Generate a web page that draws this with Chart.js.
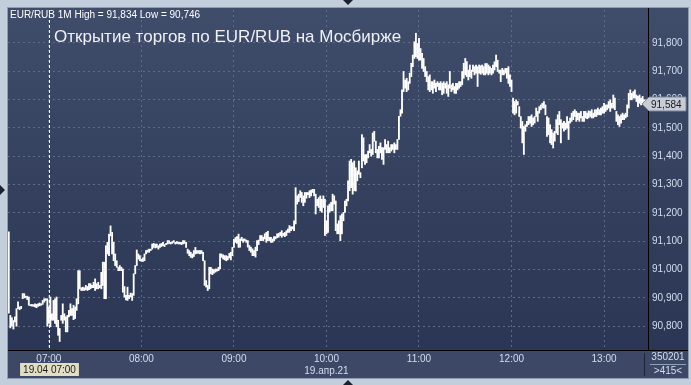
<!DOCTYPE html>
<html>
<head>
<meta charset="utf-8">
<script src="https://cdn.jsdelivr.net/npm/chart.js@4.4.1/dist/chart.umd.min.js"></script>
<style>
  body { margin: 0; background: #c3cedc; }
  canvas { display: block; }
</style>
</head>
<body>
<canvas id="myChart" width="691" height="385"></canvas>
<script>
// EUR/RUB 1M, 19.04.21 - minute bars from 06:34
const startTime = '06:34';
const highs = [
  91.133, 90.838, 90.83, 90.82, 90.833, 90.862, 90.886, 90.868, 90.87, 90.915,
  90.915, 90.906, 90.906, 90.903, 90.876, 90.877, 90.876, 90.879, 90.877, 90.879,
  90.882, 90.879, 90.891, 90.897, 90.897, 90.897, 90.868, 90.903, 90.844, 90.891,
  90.897, 90.903, 90.821, 90.792, 90.838, 90.879, 90.844, 90.833, 90.838, 90.856,
  90.879, 90.862, 90.874, 90.868, 90.897, 90.996, 90.996, 90.936, 90.938, 90.936,
  90.944, 90.94, 90.95, 90.95, 90.944, 90.955, 90.967, 90.95, 90.955, 90.944,
  90.99, 91.026, 91.026, 91.084, 91.096, 91.125, 91.154, 91.131, 91.096, 91.055,
  91.031, 91.008, 91.014, 91.008, 91.002, 90.94, 90.909, 90.938, 90.909, 90.917,
  90.915, 90.985, 91.014, 91.069, 91.055, 91.049, 91.037, 91.041, 91.055, 91.067,
  91.069, 91.072, 91.072, 91.09, 91.092, 91.09, 91.09, 91.084, 91.09, 91.092,
  91.096, 91.088, 91.092, 91.102, 91.102, 91.096, 91.099, 91.102, 91.096, 91.099,
  91.096, 91.096, 91.096, 91.102, 91.102, 91.096, 91.072, 91.067, 91.061, 91.055,
  91.067, 91.078, 91.067, 91.067, 91.067, 91.067, 91.061, 91.031, 90.961, 90.944,
  91.008, 91.008, 91.002, 90.999, 91.002, 91.002, 91.008, 91.055, 91.055, 91.052,
  91.049, 91.049, 91.046, 91.057, 91.061, 91.078, 91.107, 91.113, 91.116, 91.125,
  91.108, 91.114, 91.108, 91.108, 91.104, 91.102, 91.085, 91.079, 91.073, 91.067,
  91.079, 91.102, 91.104, 91.12, 91.12, 91.114, 91.126, 91.131, 91.135, 91.114,
  91.114, 91.108, 91.116, 91.116, 91.126, 91.128, 91.131, 91.137, 91.128, 91.131,
  91.137, 91.143, 91.155, 91.151, 91.151, 91.172, 91.289, 91.26, 91.266, 91.278,
  91.272, 91.26, 91.272, 91.272, 91.272, 91.278, 91.28, 91.283, 91.283, 91.266,
  91.248, 91.254, 91.26, 91.248, 91.26, 91.248, 91.172, 91.225, 91.231, 91.237,
  91.266, 91.26, 91.242, 91.161, 91.172, 91.19, 91.196, 91.202, 91.242, 91.248,
  91.313, 91.383, 91.389, 91.377, 91.383, 91.359, 91.348, 91.383, 91.342, 91.476,
  91.465, 91.406, 91.406, 91.418, 91.441, 91.424, 91.482, 91.488, 91.453, 91.424,
  91.435, 91.447, 91.43, 91.43, 91.459, 91.441, 91.453, 91.43, 91.441, 91.441,
  91.447, 91.441, 91.459, 91.541, 91.564, 91.634, 91.699, 91.669, 91.675, 91.663,
  91.693, 91.728, 91.757, 91.804, 91.834, 91.798, 91.816, 91.78, 91.763, 91.745,
  91.716, 91.699, 91.681, 91.687, 91.663, 91.663, 91.669, 91.657, 91.663, 91.657,
  91.663, 91.657, 91.663, 91.657, 91.663, 91.652, 91.699, 91.652, 91.657, 91.646,
  91.657, 91.657, 91.663, 91.663, 91.699, 91.728, 91.745, 91.734, 91.704, 91.722,
  91.704, 91.722, 91.716, 91.722, 91.716, 91.722, 91.719, 91.722, 91.716, 91.727,
  91.727, 91.722, 91.716, 91.71, 91.722, 91.733, 91.757, 91.739, 91.704, 91.704,
  91.71, 91.704, 91.71, 91.71, 91.716, 91.687, 91.669, 91.605, 91.593, 91.599,
  91.593, 91.575, 91.54, 91.523, 91.505, 91.511, 91.523, 91.54, 91.54, 91.546,
  91.535, 91.54, 91.57, 91.558, 91.575, 91.581, 91.587, 91.593, 91.581, 91.54,
  91.535, 91.511, 91.494, 91.482, 91.488, 91.529, 91.546, 91.558, 91.529, 91.517,
  91.523, 91.517, 91.54, 91.523, 91.535, 91.552, 91.558, 91.564, 91.558, 91.552,
  91.552, 91.558, 91.54, 91.558, 91.558, 91.552, 91.56, 91.558, 91.564, 91.552,
  91.564, 91.564, 91.57, 91.564, 91.57, 91.575, 91.587, 91.581, 91.581, 91.593,
  91.599, 91.587, 91.616, 91.605, 91.558, 91.546, 91.54, 91.546, 91.552, 91.546,
  91.552, 91.581, 91.622, 91.634, 91.622, 91.628, 91.634, 91.616, 91.611, 91.616,
  91.605, 91.611, 91.599, 91.599, 91.587
];
const lows = [
  90.846, 90.794, 90.80, 90.79, 90.815, 90.80, 90.862, 90.858, 90.862, 90.897,
  90.90, 90.90, 90.894, 90.874, 90.872, 90.871, 90.87, 90.868, 90.865, 90.87,
  90.872, 90.874, 90.877, 90.885, 90.891, 90.80, 90.81, 90.798, 90.821, 90.821,
  90.81, 90.798, 90.768, 90.746, 90.821, 90.81, 90.821, 90.78, 90.78, 90.833,
  90.838, 90.838, 90.823, 90.827, 90.856, 90.879, 90.932, 90.926, 90.926, 90.926,
  90.929, 90.926, 90.929, 90.932, 90.936, 90.936, 90.926, 90.932, 90.932, 90.936,
  90.932, 90.944, 90.897, 90.897, 91.055, 91.049, 91.119, 91.055, 91.031, 91.014,
  91.008, 90.996, 90.996, 90.996, 90.92, 90.903, 90.893, 90.891, 90.897, 90.903,
  90.891, 90.909, 90.985, 91.014, 91.037, 91.031, 91.029, 91.029, 91.031, 91.055,
  91.061, 91.061, 91.067, 91.072, 91.078, 91.076, 91.078, 91.072, 91.078, 91.081,
  91.084, 91.081, 91.088, 91.09, 91.092, 91.09, 91.092, 91.096, 91.09, 91.092,
  91.09, 91.09, 91.088, 91.09, 91.092, 91.078, 91.057, 91.049, 91.043, 91.041,
  91.046, 91.055, 91.057, 91.057, 91.055, 91.057, 91.031, 90.944, 90.938, 90.926,
  90.932, 90.985, 90.982, 90.987, 90.991, 90.994, 90.996, 91.002, 91.043, 91.037,
  91.034, 91.031, 91.034, 91.041, 91.034, 91.049, 91.078, 91.096, 91.092, 91.078,
  91.079, 91.102, 91.096, 91.102, 91.096, 91.079, 91.067, 91.061, 91.049, 91.049,
  91.044, 91.067, 91.088, 91.102, 91.102, 91.102, 91.108, 91.096, 91.102, 91.102,
  91.096, 91.096, 91.102, 91.108, 91.112, 91.114, 91.12, 91.114, 91.12, 91.116,
  91.12, 91.131, 91.131, 91.137, 91.143, 91.137, 91.161, 91.231, 91.24, 91.254,
  91.237, 91.225, 91.237, 91.252, 91.264, 91.254, 91.26, 91.272, 91.26, 91.196,
  91.225, 91.219, 91.207, 91.202, 91.219, 91.12, 91.126, 91.131, 91.202, 91.207,
  91.207, 91.231, 91.137, 91.126, 91.126, 91.102, 91.126, 91.172, 91.202, 91.225,
  91.242, 91.278, 91.289, 91.266, 91.278, 91.277, 91.313, 91.336, 91.324, 91.359,
  91.383, 91.371, 91.377, 91.394, 91.412, 91.40, 91.406, 91.453, 91.412, 91.394,
  91.394, 91.412, 91.389, 91.371, 91.424, 91.412, 91.412, 91.412, 91.418, 91.424,
  91.412, 91.424, 91.424, 91.459, 91.541, 91.552, 91.628, 91.64, 91.628, 91.634,
  91.657, 91.681, 91.716, 91.745, 91.751, 91.745, 91.739, 91.739, 91.71, 91.699,
  91.681, 91.663, 91.634, 91.628, 91.634, 91.622, 91.64, 91.628, 91.646, 91.634,
  91.634, 91.617, 91.622, 91.64, 91.622, 91.611, 91.64, 91.628, 91.634, 91.622,
  91.622, 91.634, 91.64, 91.646, 91.652, 91.675, 91.687, 91.681, 91.669, 91.681,
  91.675, 91.699, 91.687, 91.693, 91.646, 91.693, 91.689, 91.693, 91.687, 91.687,
  91.693, 91.687, 91.693, 91.687, 91.693, 91.704, 91.716, 91.699, 91.693, 91.663,
  91.687, 91.687, 91.693, 91.675, 91.657, 91.646, 91.628, 91.552, 91.546, 91.552,
  91.581, 91.54, 91.499, 91.447, 91.406, 91.488, 91.505, 91.511, 91.517, 91.505,
  91.511, 91.517, 91.54, 91.523, 91.552, 91.564, 91.57, 91.57, 91.546, 91.47,
  91.476, 91.447, 91.441, 91.429, 91.453, 91.482, 91.476, 91.511, 91.447, 91.499,
  91.488, 91.494, 91.499, 91.459, 91.517, 91.523, 91.529, 91.54, 91.523, 91.529,
  91.523, 91.535, 91.523, 91.523, 91.535, 91.532, 91.535, 91.54, 91.535, 91.535,
  91.54, 91.54, 91.546, 91.546, 91.546, 91.552, 91.552, 91.558, 91.564, 91.57,
  91.558, 91.57, 91.57, 91.564, 91.523, 91.511, 91.505, 91.517, 91.529, 91.529,
  91.535, 91.54, 91.57, 91.599, 91.599, 91.605, 91.605, 91.593, 91.575, 91.587,
  91.581, 91.587, 91.581, 91.575, 91.575
];
const lastPrice = 91.584;
const priceTicks = [90.8, 90.9, 91.0, 91.1, 91.2, 91.3, 91.4, 91.5, 91.6, 91.7, 91.8];
const hourTicks = ['07:00', '08:00', '09:00', '10:00', '11:00', '12:00', '13:00'];
const dateTick = '10:00';
const dateLabel = '19.апр.21';
const cursorTime = '07:00';
const cursorLabel = '19.04 07:00';
const chartTitle = 'Открытие торгов по EUR/RUB на Мосбирже';
const barCount = 350201;

// minute labels
const minuteLabels = [];
(function() {
  const p = startTime.split(':');
  const t0 = (+p[0]) * 60 + (+p[1]);
  for (let i = 0; i < highs.length; i++) {
    const t = t0 + i;
    minuteLabels.push(String(Math.floor(t / 60)).padStart(2, '0') + ':' + String(t % 60).padStart(2, '0'));
  }
})();

function fmt(v) {
  return v.toFixed(3).replace('.', ',');
}

const terminalLook = {
  id: 'terminalLook',
  beforeDraw(chart) {
    const { ctx, chartArea: a, width, height } = chart;
    ctx.save();
    ctx.fillStyle = '#c3cedc';
    ctx.fillRect(0, 0, width, height);
    ctx.fillStyle = '#8e9bb0';
    ctx.fillRect(7, 7, 682, 372);
    const g = ctx.createLinearGradient(0, a.top, 0, a.bottom);
    g.addColorStop(0, '#3f4c6a');
    g.addColorStop(1, '#2a3653');
    ctx.fillStyle = g;
    ctx.fillRect(8, 8, 680, a.bottom - 8);
    ctx.fillStyle = '#3c4865';
    ctx.fillRect(8, a.bottom, 680, 378 - a.bottom);
    ctx.restore();
  },
  afterDraw(chart) {
    const { ctx, chartArea: a } = chart;
    const x = chart.scales.x, y = chart.scales.y;
    ctx.save();

    // frame lines
    ctx.fillStyle = '#000000';
    ctx.fillRect(8, a.bottom, 680, 1);
    ctx.fillRect(a.right, 8, 1, a.bottom - 8);
    ctx.fillStyle = '#1c2436';
    ctx.fillRect(644, a.bottom + 3, 1, 23);

    // cursor
    const cx = Math.round(x.getPixelForValue(minuteLabels.indexOf(cursorTime))) + 0.5;
    ctx.strokeStyle = '#ffffff';
    ctx.lineWidth = 1;
    ctx.setLineDash([3, 2]);
    ctx.beginPath();
    ctx.moveTo(cx, a.top);
    ctx.lineTo(cx, a.bottom);
    ctx.stroke();
    ctx.setLineDash([]);

    ctx.font = '10px "Liberation Sans", Arial, sans-serif';
    ctx.textBaseline = 'middle';
    const cw = ctx.measureText(cursorLabel).width + 6;
    ctx.fillStyle = '#e2dec2';
    ctx.fillRect(cx - cw / 2, 363, cw, 13);
    ctx.fillStyle = '#1a1a1a';
    ctx.textAlign = 'center';
    ctx.fillText(cursorLabel, cx, 370);

    // header
    ctx.textAlign = 'left';
    ctx.fillStyle = '#ffffff';
    ctx.fillText('EUR/RUB 1M High = ' + fmt(Math.max(...highs)) + ' Low = ' + fmt(Math.min(...lows)), 10, 15);

    // title
    ctx.font = '17px "Liberation Sans", Arial, sans-serif';
    ctx.textBaseline = 'alphabetic';
    ctx.fillStyle = '#f0f0f4';
    ctx.fillText(chartTitle, 54, 42);

    // last price box
    const py = Math.round(y.getPixelForValue(lastPrice));
    ctx.fillStyle = '#c8ccd4';
    ctx.strokeStyle = '#7d8594';
    ctx.beginPath();
    ctx.moveTo(a.right - 6, py);
    ctx.lineTo(a.right + 1, py - 7);
    ctx.lineTo(686, py - 7);
    ctx.lineTo(686, py + 7);
    ctx.lineTo(a.right + 1, py + 7);
    ctx.closePath();
    ctx.fill();
    ctx.stroke();
    ctx.font = '10px "Liberation Sans", Arial, sans-serif';
    ctx.textBaseline = 'middle';
    ctx.fillStyle = '#1a1a1a';
    ctx.textAlign = 'left';
    ctx.fillText(fmt(lastPrice), a.right + 3, py + 1);

    // counter box
    ctx.fillStyle = '#d2def0';
    ctx.textAlign = 'center';
    ctx.fillText(String(barCount), 668, 357);
    ctx.fillText('>' + highs.length + '<', 668, 371);
    ctx.fillStyle = '#8fa0bb';
    ctx.fillRect(650, 364, 36, 1);

    // frame markers
    ctx.fillStyle = '#1b2130';
    ctx.beginPath();
    ctx.moveTo(343, 0); ctx.lineTo(353, 0); ctx.lineTo(348, 5); ctx.closePath(); ctx.fill();
    ctx.beginPath();
    ctx.moveTo(343, 385); ctx.lineTo(353, 385); ctx.lineTo(348, 380); ctx.closePath(); ctx.fill();
    ctx.beginPath();
    ctx.moveTo(0, 185); ctx.lineTo(0, 195); ctx.lineTo(5, 190); ctx.closePath(); ctx.fill();
    ctx.restore();
  }
};

Chart.defaults.font.family = '"Liberation Sans", Arial, sans-serif';
Chart.defaults.font.size = 10;

const ctx = document.getElementById('myChart').getContext('2d');
const barChart = new Chart(ctx, {
  type: 'bar',
  data: {
    labels: minuteLabels,
    datasets: [{
      label: 'EUR/RUB 1M',
      data: lows.map((lo, i) => [lo, highs[i]]),
      backgroundColor: '#ffffff',
      borderWidth: 0,
      barThickness: 1.2
    }]
  },
  options: {
    responsive: false,
    animation: false,
    devicePixelRatio: 1,
    layout: { padding: { left: 8, top: 8, right: 3, bottom: 7 } },
    scales: {
      x: {
        afterBuildTicks: scale => {
          scale.ticks = hourTicks.map(h => ({ value: minuteLabels.indexOf(h) }));
        },
        afterFit: scale => { scale.height = 28; },
        ticks: {
          autoSkip: false,
          maxRotation: 0,
          padding: 3,
          color: '#d2def0',
          callback: function(value) {
            const l = this.getLabelForValue(value);
            return l === dateTick ? [l, dateLabel] : l;
          }
        },
        grid: {
          offset: false,
          drawTicks: false,
          color: '#5d6b88',
          lineWidth: 1
        },
        border: { display: false, dash: [2, 3] }
      },
      y: {
        position: 'right',
        min: 90.716,
        max: 91.916,
        afterBuildTicks: scale => {
          scale.ticks = priceTicks.map(v => ({ value: v }));
        },
        afterFit: scale => { scale.width = 40; },
        ticks: {
          padding: 4,
          color: '#d2def0',
          callback: v => fmt(v)
        },
        grid: {
          drawTicks: false,
          color: '#5d6b88',
          lineWidth: 1
        },
        border: { display: false, dash: [2, 3] }
      }
    },
    plugins: {
      legend: { display: false },
      tooltip: { enabled: false }
    }
  },
  plugins: [terminalLook]
});
</script>
</body>
</html>
